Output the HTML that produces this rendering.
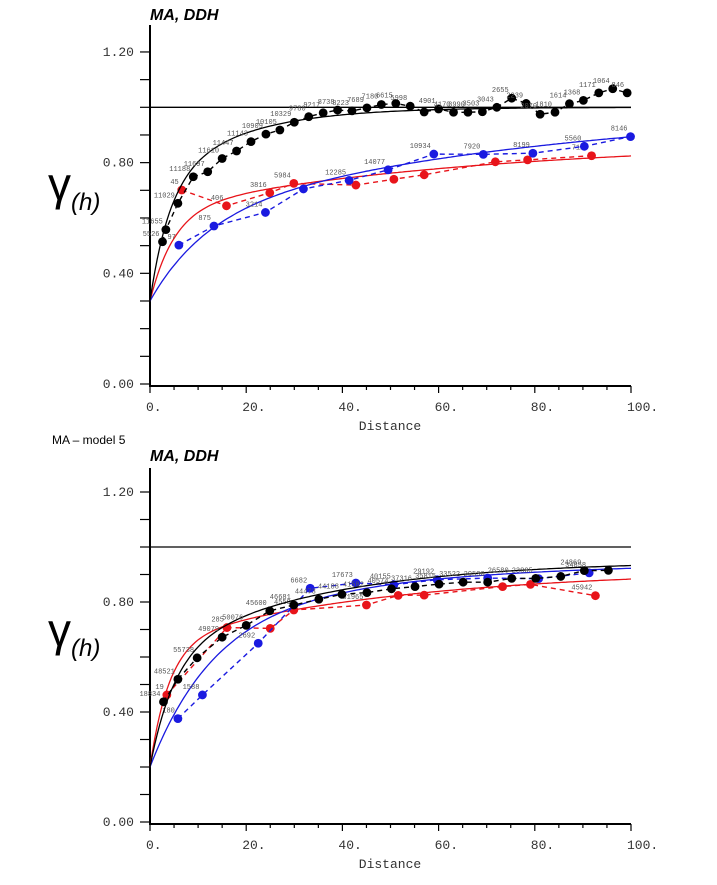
<!DOCTYPE html>
<html><head><meta charset="utf-8"><style>
html,body{margin:0;padding:0;background:#fff;}
svg{display:block;}
.mono{font-family:"Liberation Mono",monospace;}
</style></head><body>
<svg id="root" width="717" height="885" viewBox="0 0 717 885" xmlns="http://www.w3.org/2000/svg">
<text x="52" y="444" font-family="Liberation Sans, sans-serif" font-size="12" fill="#000">MA – model 5</text>
</svg>
<script>
// ---------- TOP CHART DATA ----------
const topBlackX=[2.6,3.3,5.8,9.0,12.0,15.0,18.0,21.0,24.1,27.0,30.0,33.0,36.0,39.0,42.0,45.1,48.1,51.1,54.1,57.0,60.0,63.1,66.1,69.1,72.1,75.2,78.2,81.1,84.2,87.2,90.1,93.3,96.2,99.2];
const topBlackY=[0.514,0.558,0.653,0.749,0.767,0.815,0.842,0.876,0.903,0.918,0.946,0.966,0.980,0.990,0.987,0.998,1.010,1.014,1.004,0.983,0.994,0.982,0.982,0.984,1.000,1.033,1.014,0.975,0.982,1.013,1.025,1.052,1.067,1.052];
const topBlackLbl=["5526","11655","11029","11188","11697","11610","11447","11143","10909","10105","10329","9780","9217","8738","8223","7689","7180","6615","5998","","4901","4170","3990","3503","3043","2655","2239","2070","1810","1614","1368","1171","1064","846"];
const topRedX=[6.6,15.9,24.9,29.9,42.8,50.7,57.0,71.8,78.5,91.8];
const topRedY=[0.701,0.644,0.691,0.725,0.719,0.740,0.756,0.803,0.810,0.825];
const topRedLbl=["45","406","3816","5984","","","","","","7126"];
const topBlueX=[6.0,13.3,24.0,31.9,41.4,49.5,59.0,69.3,79.6,90.3,99.9];
const topBlueY=[0.502,0.571,0.620,0.705,0.736,0.774,0.831,0.830,0.834,0.859,0.894];
const topBlueLbl=["97","875","3214","","12285","14077","10934","7920","8199","5560","8146"];
// model params: [nugget, c1, range1, c2, range2]
const topBlackModel=[0.30,0.40,12,0.30,50];
const topRedModel=[0.30,0.33,15,0.25,200];
const topBlueModel=[0.30,0.30,35,0.42,250];
// ---------- BOTTOM CHART DATA ----------
const botBlackX=[2.8,5.8,9.8,15.0,20.0,24.9,29.9,35.1,39.9,45.1,50.2,55.1,60.1,65.1,70.2,75.2,80.2,85.4,90.3,95.3];
const botBlackY=[0.437,0.519,0.597,0.672,0.715,0.768,0.789,0.810,0.828,0.834,0.848,0.856,0.865,0.872,0.872,0.886,0.886,0.893,0.914,0.915];
const botBlackLbl=["18834","48521","55738","49079","50076","45600","46681","44473","44188","41582","40574","37316","35815","33522","29530","26580","23805","","24869",""];
const botRedX=[3.5,16.0,25.0,29.9,45.0,51.6,57.0,73.3,79.1,92.6];
const botRedY=[0.462,0.707,0.704,0.771,0.789,0.824,0.825,0.856,0.864,0.823];
const botRedLbl=["19","285","","4559","31965","","","","","45942"];
const botBlueX=[5.8,10.9,22.5,33.3,42.8,50.7,59.7,70.2,80.8,91.3];
const botBlueY=[0.376,0.462,0.650,0.850,0.869,0.863,0.881,0.887,0.885,0.906];
const botBlueLbl=["180","1588","2692","6682","17673","40155","29192","","","34858"];
const botBlackModel=[0.20,0.40,15,0.35,100];
const botRedModel=[0.20,0.45,12,0.27,150];
const botBlueModel=[0.20,0.55,40,0.20,150];
const xTicks=["0.","20.","40.","60.","80.","100."];
const yTicks=["0.00","0.40","0.80","1.20"];
const sill=1.0;

const NS="http://www.w3.org/2000/svg";
const root=document.getElementById('root');
function mk(tag,attrs,parent){const e=document.createElementNS(NS,tag);for(const k in attrs)e.setAttribute(k,attrs[k]);(parent||root).appendChild(e);return e;}
function model(p,h){return p[0]+p[1]*(1-Math.exp(-3*h/p[2]))+p[3]*(1-Math.exp(-3*h/p[4]));}

function chart(prefix,y0,pxPerUnit,axisTop,series,titleY,gammaY){
  const g=mk('g',{});
  
  
  const xs=v=>150+v*4.81;
  const ys=v=>y0-v*pxPerUnit;
  const t=mk('text',{x:150,y:titleY,'font-family':'Liberation Sans, sans-serif','font-size':'16','font-weight':'bold','font-style':'italic'},g);
  t.textContent='MA, DDH';
  
  
  const gm=mk('text',{x:48,y:gammaY,'font-family':'Liberation Sans, sans-serif','font-size':'46'},g);
  gm.innerHTML='γ<tspan font-size="24" font-style="italic" dy="10">(h)</tspan>';
  
  
  const ya=mk('line',{x1:150,y1:axisTop,x2:150,y2:y0+2,stroke:'#000','stroke-width':2},g);
  
  
  const xa=mk('line',{x1:149,y1:y0+2,x2:xs(100),y2:y0+2,stroke:'#000','stroke-width':2},g);
  
  
  for(let i=0;i<=12;i++){
    mk('line',{x1:140,y1:ys(i*0.1),x2:150,y2:ys(i*0.1),stroke:'#000','stroke-width':1.2},g);
  }
  yTicks.forEach((lbl,i)=>{
    const tt=mk('text',{x:134,y:ys(i*0.4)+4,'text-anchor':'end','font-size':'13',class:'mono',fill:'#333'},g);
    tt.textContent=lbl;
    
    
  });
  for(let i=0;i<=20;i++){
    const v=i*5;
    mk('line',{x1:xs(v),y1:y0+2,x2:xs(v),y2:y0+(i%4==0?9:6),stroke:'#000','stroke-width':1.2},g);
  }
  xTicks.forEach((lbl,i)=>{
    const tt=mk('text',{x:xs(i*20)-4,y:y0+27,'font-size':'13',class:'mono',fill:'#333'},g);
    tt.textContent=lbl;
    
    
  });
  const xt=mk('text',{x:390,y:y0+46,'text-anchor':'middle','font-size':'13',class:'mono',fill:'#333'},g);
  xt.textContent='Distance';
  
  
  const sl=mk('line',{x1:150,y1:ys(sill),x2:xs(100),y2:ys(sill),stroke:'#000','stroke-width':1.3},g);
  
  
  series.forEach(s=>{
    let d='';
    for(let h=0;h<=100;h+=0.5){d+=(h==0?'M':'L')+xs(h).toFixed(1)+','+ys(model(s.m,h)).toFixed(1);}
    const c=mk('path',{d:d,fill:'none',stroke:s.col,'stroke-width':1.3},g);
    
    
    const pts=s.x.map((v,i)=>xs(v).toFixed(1)+','+ys(s.y[i]).toFixed(1)).join(' ');
    const pl=mk('polyline',{points:pts,fill:'none',stroke:s.col,'stroke-width':1.4,'stroke-dasharray':'5,4'},g);
    
    
    s.x.forEach((v,i)=>{
      const p=mk('circle',{cx:xs(v),cy:ys(s.y[i]),r:4.4,fill:s.col},g);
      
      
      if(s.l[i]){
        const lt=mk('text',{x:xs(v)-3,y:ys(s.y[i])-6,'text-anchor':'end','font-size':'7',class:'mono',fill:'#555'},g);
        lt.textContent=s.l[i];
        
        
      }
    });
  });
}
chart('top',384,276.7,25,[
  {name:'red',col:'#e8141a',x:topRedX,y:topRedY,l:topRedLbl,m:topRedModel},
  {name:'blue',col:'#1a1ae0',x:topBlueX,y:topBlueY,l:topBlueLbl,m:topBlueModel},
  {name:'black',col:'#000',x:topBlackX,y:topBlackY,l:topBlackLbl,m:topBlackModel}
],20,200);
chart('bottom',822,275,468,[
  {name:'red',col:'#e8141a',x:botRedX,y:botRedY,l:botRedLbl,m:botRedModel},
  {name:'blue',col:'#1a1ae0',x:botBlueX,y:botBlueY,l:botBlueLbl,m:botBlueModel},
  {name:'black',col:'#000',x:botBlackX,y:botBlackY,l:botBlackLbl,m:botBlackModel}
],461,646);
</script>
</body></html>
